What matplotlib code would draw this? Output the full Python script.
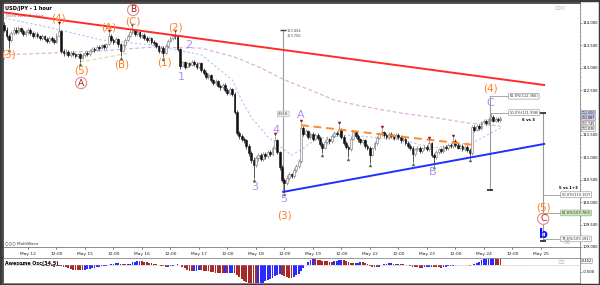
import matplotlib
matplotlib.use("Agg")
import matplotlib.pyplot as plt
import numpy as np
import pandas as pd
from matplotlib.patches import Rectangle
from matplotlib.ticker import FormatStrFormatter, FuncFormatter, MultipleLocator

# USD/JPY hourly bars, first bar = May 11 14:00 (bar index is the x axis)
first_open = 113.95
closes = [
    113.85, 113.70, 113.62, 113.78, 113.85, 113.80, 113.88, 113.82, 113.76, 113.80,
    113.84, 113.78, 113.72, 113.75, 113.70, 113.66, 113.70, 113.64, 113.60, 113.66,
    113.62, 113.58, 113.72, 113.82, 113.38, 113.32, 113.36, 113.28, 113.34, 113.30,
    113.26, 113.30, 113.22, 113.28, 113.34, 113.30, 113.38, 113.42, 113.40, 113.46,
    113.44, 113.50, 113.46, 113.52, 113.72, 113.62, 113.58, 113.64, 113.52, 113.38,
    113.50, 113.62, 113.72, 113.80, 113.84, 113.76, 113.80, 113.70, 113.74, 113.66,
    113.62, 113.66, 113.58, 113.55, 113.48, 113.38, 113.45, 113.34, 113.48, 113.60,
    113.66, 113.72, 113.70, 113.42, 113.05, 113.12, 113.02, 113.10, 113.06, 113.14,
    113.08, 113.02, 113.10, 112.95, 112.88, 112.80, 112.84, 112.72, 112.66, 112.70,
    112.60, 112.56, 112.62, 112.50, 112.44, 112.52, 112.42, 112.02, 111.55, 111.48,
    111.42, 111.38, 111.25, 111.10, 110.95, 110.82, 110.98, 111.05, 110.96, 111.08,
    111.02, 111.12, 111.08, 111.22, 111.38, 111.12, 110.78, 110.50, 110.42, 110.55,
    110.62, 110.58, 110.72, 110.80, 110.92, 111.66, 111.52, 111.58, 111.46, 111.52,
    111.42, 111.50, 111.44, 111.30, 111.22, 111.34, 111.40, 111.36, 111.48, 111.55,
    111.52, 111.62, 111.45, 111.32, 111.24, 111.18, 111.42, 111.56, 111.48, 111.40,
    111.34, 111.38, 111.26, 111.22, 111.06, 111.20, 111.32, 111.44, 111.52, 111.56,
    111.50, 111.46, 111.52, 111.48, 111.44, 111.50, 111.46, 111.38, 111.42, 111.32,
    111.26, 111.22, 111.08, 111.18, 111.22, 111.14, 111.20, 111.24, 111.18, 111.32,
    111.06, 111.00, 111.12, 111.18, 111.14, 111.24, 111.20, 111.28, 111.26, 111.36,
    111.28, 111.22, 111.26, 111.18, 111.24, 111.16, 111.10, 111.68, 111.62, 111.70,
    111.66, 111.78, 111.82, 111.76, 111.86, 111.90, 111.82, 111.86, 111.84, 111.89,
]
highs = [
    114.02, 113.90, 113.76, 113.82, 113.90, 113.90, 113.93, 113.92, 113.86, 113.85,
    113.89, 113.88, 113.82, 113.80, 113.79, 113.74, 113.75, 113.74, 113.68, 113.70,
    113.70, 113.66, 113.77, 113.96, 113.85, 113.42, 113.41, 113.40, 113.38, 113.38,
    113.34, 113.34, 113.33, 113.32, 113.38, 113.38, 113.42, 113.46, 113.46, 113.50,
    113.50, 113.54, 113.54, 113.56, 113.78, 113.75, 113.66, 113.68, 113.67, 113.55,
    113.54, 113.66, 113.76, 113.85, 113.91, 113.87, 113.84, 113.83, 113.78, 113.77,
    113.70, 113.70, 113.69, 113.62, 113.58, 113.51, 113.49, 113.48, 113.52, 113.64,
    113.70, 113.76, 113.78, 113.73, 113.45, 113.16, 113.15, 113.14, 113.14, 113.18,
    113.18, 113.12, 113.14, 113.13, 112.99, 112.92, 112.88, 112.87, 112.76, 112.74,
    112.73, 112.64, 112.66, 112.65, 112.54, 112.56, 112.55, 112.46, 112.06, 111.60,
    111.52, 111.46, 111.42, 111.29, 111.14, 111.00, 111.03, 111.10, 111.09, 111.12,
    111.12, 111.16, 111.16, 111.26, 111.48, 111.41, 111.15, 110.82, 110.55, 110.60,
    110.67, 110.66, 110.76, 110.85, 110.97, 111.77, 111.70, 111.63, 111.62, 111.57,
    111.56, 111.55, 111.54, 111.48, 111.34, 111.38, 111.45, 111.44, 111.53, 111.60,
    111.59, 111.72, 111.65, 111.49, 111.36, 111.28, 111.47, 111.61, 111.60, 111.52,
    111.44, 111.42, 111.41, 111.30, 111.26, 111.24, 111.36, 111.48, 111.57, 111.63,
    111.60, 111.54, 111.56, 111.56, 111.52, 111.54, 111.54, 111.50, 111.46, 111.45,
    111.36, 111.30, 111.26, 111.22, 111.26, 111.26, 111.24, 111.28, 111.28, 111.39,
    111.35, 111.10, 111.16, 111.22, 111.22, 111.28, 111.28, 111.32, 111.32, 111.43,
    111.40, 111.32, 111.30, 111.30, 111.28, 111.28, 111.20, 111.72, 111.72, 111.74,
    111.74, 111.82, 111.86, 111.86, 111.90, 111.99, 111.94, 111.90, 111.90, 111.92,
]
lows = [
    113.80, 113.64, 113.44, 113.58, 113.74, 113.75, 113.76, 113.78, 113.72, 113.72,
    113.76, 113.74, 113.67, 113.68, 113.66, 113.61, 113.62, 113.60, 113.55, 113.56,
    113.57, 113.53, 113.56, 113.70, 113.32, 113.27, 113.28, 113.24, 113.25, 113.26,
    113.21, 113.22, 113.13, 113.19, 113.25, 113.26, 113.27, 113.35, 113.36, 113.37,
    113.40, 113.41, 113.42, 113.43, 113.50, 113.58, 113.54, 113.55, 113.47, 113.26,
    113.35, 113.47, 113.59, 113.69, 113.76, 113.72, 113.72, 113.66, 113.66, 113.62,
    113.57, 113.58, 113.54, 113.50, 113.44, 113.33, 113.34, 113.24, 113.31, 113.45,
    113.57, 113.63, 113.65, 113.38, 112.98, 113.01, 112.98, 112.99, 113.02, 113.03,
    113.04, 112.98, 112.99, 112.90, 112.84, 112.75, 112.76, 112.68, 112.61, 112.62,
    112.56, 112.51, 112.52, 112.46, 112.39, 112.40, 112.38, 111.96, 111.50, 111.42,
    111.37, 111.32, 111.18, 111.04, 110.88, 110.54, 110.78, 110.93, 110.91, 110.92,
    110.97, 110.98, 111.04, 111.04, 111.18, 111.07, 110.72, 110.44, 110.23, 110.38,
    110.50, 110.53, 110.54, 110.68, 110.76, 110.88, 111.47, 111.48, 111.41, 111.42,
    111.37, 111.38, 111.39, 111.25, 111.10, 111.18, 111.30, 111.31, 111.32, 111.44,
    111.47, 111.48, 111.40, 111.27, 111.19, 111.01, 111.14, 111.38, 111.43, 111.35,
    111.29, 111.30, 111.21, 111.16, 110.88, 111.02, 111.16, 111.28, 111.40, 111.48,
    111.45, 111.41, 111.42, 111.44, 111.39, 111.40, 111.42, 111.33, 111.34, 111.27,
    111.21, 111.17, 110.90, 111.04, 111.14, 111.10, 111.10, 111.16, 111.14, 111.14,
    111.01, 110.83, 110.96, 111.08, 111.10, 111.10, 111.16, 111.16, 111.22, 111.22,
    111.24, 111.18, 111.18, 111.14, 111.14, 111.12, 110.99, 111.06, 111.56, 111.58,
    111.61, 111.62, 111.74, 111.72, 111.72, 111.82, 111.78, 111.78, 111.80, 111.80,
]

tick_bars = [10, 22, 34, 46, 58, 70, 82, 94, 106, 118, 130, 142, 154, 166, 178, 190, 202, 214, 226]
tick_labels = ["May 12", "12:00", "May 15", "12:00", "May 16", "12:00", "May 17", "12:00",
               "May 18", "12:00", "May 19", "12:00", "May 22", "12:00", "May 23", "12:00",
               "May 24", "12:00", "May 25"]

# moving averages
fast_ma_bars = [0, 20, 41, 62, 83, 96, 100, 104, 111, 118, 121, 125, 132, 139, 146, 153, 167, 181, 195, 198, 209]
fast_ma = [114.11, 113.89, 113.62, 113.51, 113.29, 112.73, 112.28, 111.90, 111.46, 111.17, 111.05,
           111.17, 111.43, 111.46, 111.50, 111.46, 111.39, 111.21, 111.32, 111.34, 111.66]
slow_ma_bars = [0, 20, 41, 62, 83, 97, 108, 118, 129, 139, 150, 167, 180, 195, 209]
slow_ma = [113.29, 113.33, 113.38, 113.46, 113.44, 113.24, 113.00, 112.73, 112.50, 112.28,
           112.15, 111.99, 111.90, 111.77, 111.70]

# swing points with markers
swing_high_bars = [23, 44, 54, 72, 114, 125, 141, 159, 179, 189]
swing_low_bars = [2, 32, 49, 67, 105, 118, 134, 145, 154, 172, 181, 196]

# trend lines (bar, price)
red_line = ([-1.3, 227.4], [114.245, 112.616])
blue_line = ([117.5, 227.4], [110.23, 111.30])
orange_line = ([125, 197.5], [111.72, 111.28])
green_line = ([32, 52], [113.13, 113.32])

# fibonacci levels
fib_upper = [("61.8%(112.366)", 112.366), ("50.0%(111.998)", 111.998)]
fib_lower = [("50.0%(110.167)", 110.167), ("61.8%(109.760)", 109.760), ("78.6%(109.181)", 109.181)]

# highlighted price tags on the right axis
right_tags = [("112.000", 112.000, "#cfe0ff"), ("111.887", 111.880, "#d9ccf4"),
              ("111.745", 111.755, "white"), ("111.636", 111.630, "white")]

ORANGE = "#ff7f27"
PURPLE = "#b48cf0"
DARKRED = "#a01818"

W, H = 600, 285
fig = plt.figure(figsize=(6, 2.85), dpi=100)


def px_rect(x0, y0, x1, y1):
    return [x0 / W, 1 - y1 / H, (x1 - x0) / W, (y1 - y0) / H]


ax = fig.add_axes(px_rect(3, 3, 580, 247))
axd = fig.add_axes(px_rect(3, 247, 580, 258))
axo = fig.add_axes(px_rect(3, 258, 580, 283))

n = len(closes)
idx = np.arange(n)
c = np.array(closes)
h = np.array(highs)
l = np.array(lows)
o = np.concatenate([[first_open], c[:-1]])
up = c >= o

# --- candles
ax.vlines(idx, l, h, colors=np.where(up, "#777777", "#111111"), lw=0.5, zorder=3)
lo = np.minimum(o, c)
hh = np.maximum(np.abs(c - o), 0.012)
ax.bar(idx[up], hh[up], bottom=lo[up], width=0.75, color="#f4f4f4", edgecolor="#777777", lw=0.4, zorder=4)
ax.bar(idx[~up], hh[~up], bottom=lo[~up], width=0.75, color="#111111", edgecolor="#111111", lw=0.4, zorder=4)

# --- moving averages / lines
ax.plot(fast_ma_bars, fast_ma, color="#a9c8f5", lw=0.8, ls=(0, (2, 2)), zorder=2)
ax.plot(slow_ma_bars, slow_ma, color="#e0b0e0", lw=0.9, ls=(0, (3, 2)), zorder=2)
ax.plot(*green_line, color="#d9dca4", lw=0.9, ls=(0, (3, 2)), zorder=2)
ax.plot(*red_line, color="#ff2a2a", lw=1.4, zorder=5)
ax.plot(*blue_line, color="#1f2fff", lw=1.4, zorder=5)
ax.plot(*orange_line, color="#ff8a2a", lw=1.4, ls=(0, (4, 2.5)), zorder=5)

ax.scatter(swing_high_bars, h[swing_high_bars] + 0.05, marker="v", s=6, color="#8b1a1a", zorder=6, lw=0)
ax.scatter(swing_low_bars, l[swing_low_bars] - 0.05, marker="^", s=6, color="#2e7d32", zorder=6, lw=0)

# --- measuring lines
gray = "#9a9a9a"
ax.plot([117.5, 117.5], [113.84, 110.23], color=gray, lw=0.8, zorder=2)
ax.plot([117.5], [113.84], marker="_", ms=4, color="#444444", mew=1)
ax.text(118.8, 113.83, "113.854", fontsize=2.5, va="center", color="#444444")
ax.text(118.8, 113.70, "113.706", fontsize=2.5, va="center", color="#444444")
ax.text(117.5, 111.97, "3.618", fontsize=2.5, ha="center", va="center", color="#444444",
        bbox=dict(boxstyle="round,pad=0.25", fc="#eeeeee", ec="#aaaaaa", lw=0.4))

ax.plot([204.6, 204.6], [112.366, 110.27], color=gray, lw=0.8, zorder=2)
ax.plot([204.6], [110.27], marker="_", ms=4, color="#222222", mew=1.2)
for txt, p in fib_upper:
    ax.plot([204.6, 212.6], [p, p], color=gray, lw=0.6)
    ax.text(212.8, p, txt, fontsize=2.6, va="center", color="#333333",
            bbox=dict(boxstyle="round,pad=0.25", fc="white", ec="#888888", lw=0.4))
ax.text(221, 111.83, "6 vs 3", fontsize=2.8, fontweight="bold", ha="center", va="center")

ax.plot([227, 227], [111.99, 109.13], color=gray, lw=0.8, zorder=2)
ax.plot([227, 227], [111.99, 109.13], ls="none", marker="_", ms=4, color="#222222", mew=1.2)
for txt, p in fib_lower:
    ax.plot([227, 234.5], [p, p], color=gray, lw=0.6)
    green = txt.startswith("61.8")
    ax.text(234.7, p, txt, fontsize=2.6, va="center", color="#333333",
            bbox=dict(boxstyle="round,pad=0.25", fc="#cfe8c4" if green else "white",
                      ec="#7aa66a" if green else "#888888", lw=0.4))
ax.text(237.5, 110.31, "5 vs 1+3", fontsize=2.8, fontweight="bold", ha="center", va="center")

# --- wave labels (text, bar, price, style)
waves = [
    ("(3)", 1.7, 113.29, "o"), ("(4)", 22.7, 114.11, "o"), ("(5)", 32.4, 112.95, "o"),
    ("A", 32.4, 112.66, "c"), ("(A)", 43.8, 113.89, "o"), ("(B)", 49.3, 113.08, "o"),
    ("(C)", 54.3, 114.04, "o"), ("B", 54.3, 114.29, "c"), ("(1)", 67.4, 113.11, "o"),
    ("(2)", 72.0, 113.91, "o"), ("1", 74.5, 112.79, "p"), ("2", 77.5, 113.51, "p"),
    ("3", 105.3, 110.34, "p"), ("4", 114.5, 111.61, "p"), ("5", 117.9, 110.07, "p"),
    ("(3)", 117.9, 109.71, "o"), ("A", 125.0, 111.95, "p"), ("B", 180.6, 110.67, "p"),
    ("C", 204.6, 112.21, "p"), ("(4)", 204.6, 112.53, "o"), ("(5)", 227.0, 109.89, "o"),
    ("C", 227.0, 109.63, "c"), ("b", 227.0, 109.28, "b"),
]
for txt, x, y, kind in waves:
    if kind == "o":
        ax.text(x, y, txt, color=ORANGE, fontsize=7.5, ha="center", va="center", zorder=7)
    elif kind == "p":
        ax.text(x, y, txt, color=PURPLE, fontsize=8, ha="center", va="center", zorder=7)
    elif kind == "c":
        ax.text(x, y, txt, color=DARKRED, fontsize=6.5, ha="center", va="center", zorder=7,
                bbox=dict(boxstyle="circle,pad=0.12", fc="white", ec="#e58a8a", lw=0.8))
    else:
        ax.text(x, y, txt, color="#1010ff", fontsize=9, fontweight="bold", ha="center", va="center", zorder=7)

# --- main axis styling
ax.set_xlim(-0.5, 242.5)
ax.set_ylim(109.0, 114.446)
ax.set_xticks([])
ax.yaxis.tick_right()
ax.yaxis.set_major_locator(MultipleLocator(0.5))
ax.yaxis.set_minor_locator(MultipleLocator(0.1))
# the 112.000 level is shown as a highlighted tag instead of a plain label
ax.yaxis.set_major_formatter(FuncFormatter(lambda v, pos: "" if abs(v - 112.0) < 1e-6 else f"{v:.3f}"))
ax.tick_params(axis="y", which="major", labelsize=2.7, length=1.5, width=0.5, color="#777777", pad=0.6)
ax.tick_params(axis="y", which="minor", length=1, width=0.4, color="#999999")
for s in ["left", "top"]:
    ax.spines[s].set_color("#333333")
    ax.spines[s].set_linewidth(1.2)
for s in ["right", "bottom"]:
    ax.spines[s].set_color("#888888")
    ax.spines[s].set_linewidth(0.6)

ax.text(0.004, 0.988, "USD/JPY - 1 hour", transform=ax.transAxes, fontsize=3.6,
        fontweight="bold", va="top")
ax.text(0.006, 0.955, "Elliott Wave Analysis", transform=ax.transAxes, fontsize=2.6,
        color="#777777", va="top")
ax.text(0.003, 0.012, "○○○ MultiWave", transform=ax.transAxes, fontsize=3, color="#333333")
ax.text(0.975, 0.985, "○○○", transform=ax.transAxes, fontsize=3, color="#999999", ha="right", va="top")
ax.text(0.985, 0.01, "○○", transform=ax.transAxes, fontsize=3, color="#999999", ha="right", va="bottom")

for txt, p, fc in right_tags:
    ax.text(1.003, p, txt, transform=ax.get_yaxis_transform(), fontsize=2.3, va="center",
            ha="left", clip_on=False,
            bbox=dict(boxstyle="round,pad=0.1", fc=fc, ec="#888888", lw=0.4))

# --- date strip
axd.set_xlim(-0.5, 242.5)
axd.set_ylim(0, 1)
axd.set_xticks([])
axd.set_yticks([])
for b, lab in zip(tick_bars, tick_labels):
    axd.plot([b, b], [0.8, 1.0], color="#555555", lw=0.5)
    axd.text(b, 0.4, lab, fontsize=3.2, ha="center", va="center", color="#222222")
for s in axd.spines.values():
    s.set_color("#777777")
    s.set_linewidth(0.6)
axd.spines["left"].set_color("#333333")
axd.spines["left"].set_linewidth(1.2)

# --- Awesome oscillator computed from the candles
median = pd.Series((h + l) / 2)
ao = (median.rolling(5, min_periods=1).mean() - median.rolling(34, min_periods=1).mean()).to_numpy()
rising = np.concatenate([[True], ao[1:] >= ao[:-1]])
axo.bar(idx, ao, width=0.75, color=np.where(rising, "#2b2bff", "#a52a2a"), lw=0)
axo.axhline(0, color="#aaaaaa", lw=0.5, ls=(0, (1, 1)))
axo.set_xlim(-0.5, 242.5)
axo.set_ylim(-1.29, 0.5)
axo.set_xticks([])
axo.yaxis.tick_right()
axo.set_yticks([-0.5])
axo.yaxis.set_major_formatter(FormatStrFormatter("%.3f"))
axo.tick_params(axis="y", labelsize=2.7, length=1.5, width=0.5, color="#777777", pad=0.6)
for s in axo.spines.values():
    s.set_color("#888888")
    s.set_linewidth(0.6)
axo.spines["left"].set_color("#333333")
axo.spines["left"].set_linewidth(1.2)
axo.text(0.003, 0.86, "Awesome Osc(34,5)", transform=axo.transAxes, fontsize=3.4,
         fontweight="bold", va="top")
axo.text(0.975, 0.9, "○□", transform=axo.transAxes, fontsize=3, color="#999999", ha="right", va="top")
axo.text(1.003, 0.3, f"{ao[-1]:.3f}", transform=axo.get_yaxis_transform(), fontsize=2.5,
         va="center", clip_on=False,
         bbox=dict(boxstyle="round,pad=0.15", fc="white", ec="#888888", lw=0.4))

# outer frame
fig.patches.append(Rectangle((0, 0), 1, 1, transform=fig.transFigure, fill=False,
                             ec="#3a3a3a", lw=2.5))

fig.savefig("out.png", dpi=100)
